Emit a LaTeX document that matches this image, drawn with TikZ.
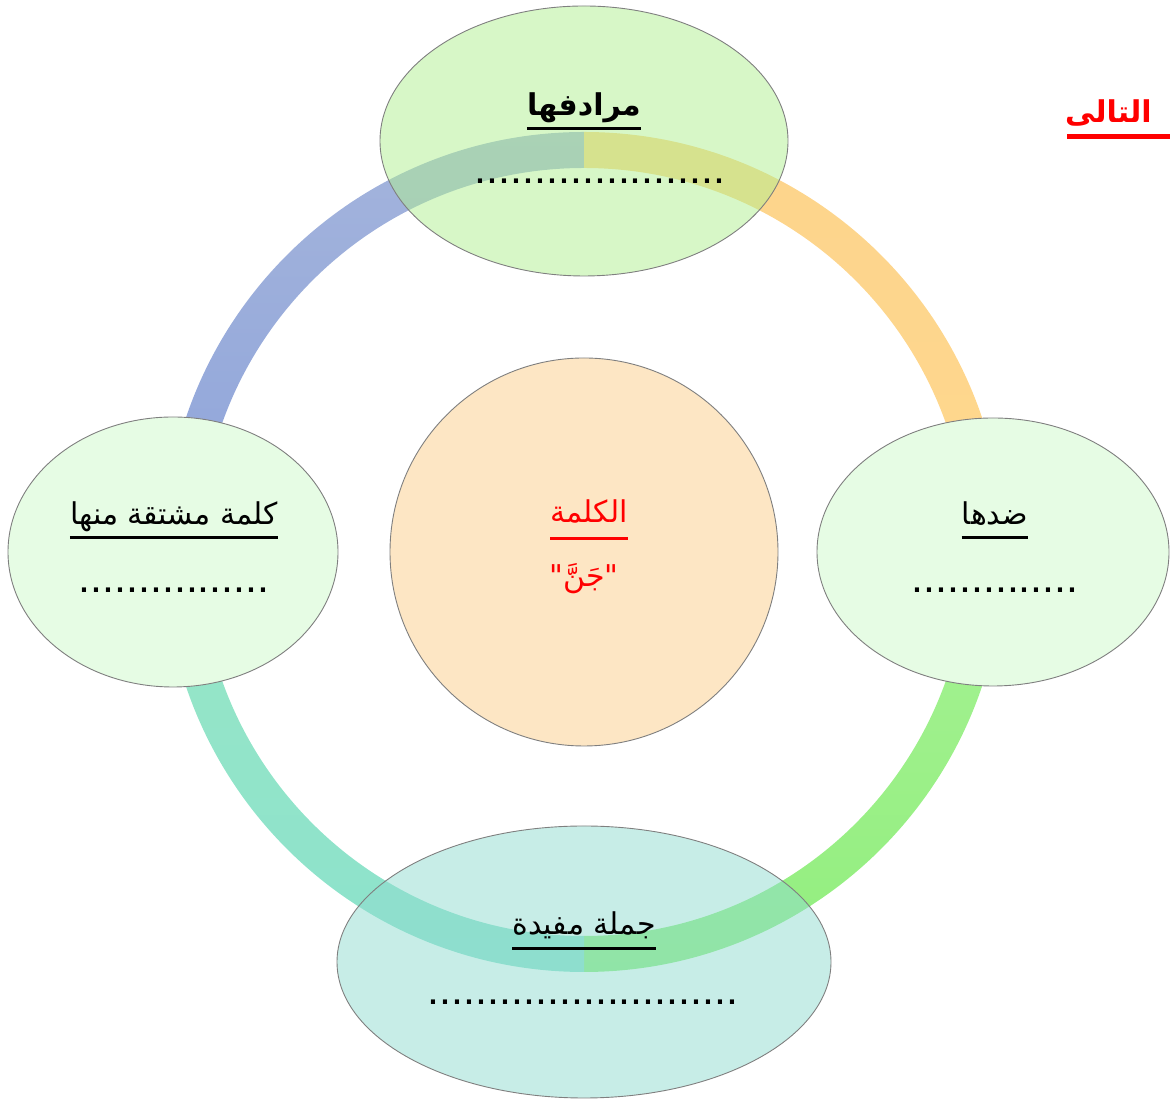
\documentclass[tikz,border=0pt]{standalone}
\usepackage{fontspec}
\setmainfont{Liberation Sans}
\newfontfamily\arabicfont[Script=Arabic]{DejaVu Sans}
\TeXXeTstate=1
\usetikzlibrary{shapes.geometric}
\definecolor{ringblueT}{HTML}{A4B4DC}
\definecolor{ringblueB}{HTML}{8EA4DA}
\definecolor{ringorT}{HTML}{FDD48C}
\definecolor{ringorB}{HTML}{FED88E}
\definecolor{ringgrT}{HTML}{A6F294}
\definecolor{ringgrB}{HTML}{92EE7E}
\definecolor{ringtlT}{HTML}{98E6C6}
\definecolor{ringtlB}{HTML}{8CE2CC}
\definecolor{topfill}{HTML}{B0F090}
\definecolor{sidefill}{HTML}{E6FCE4}
\definecolor{botfill}{HTML}{90DCD0}
\definecolor{midfill}{HTML}{FDE6C4}
\definecolor{edge}{HTML}{7F7F7F}
\tikzset{
  bubble/.style={ellipse, draw=edge, line width=0.9pt, inner sep=0pt},
  arab/.style={font=\arabicfont\fontsize{30}{36}\selectfont, inner sep=0pt, anchor=base},
  dotsline/.style={font=\fontsize{43}{48}\selectfont, inner sep=0pt, anchor=base},
  uline/.style={line width=3pt},
}
\begin{document}
\begin{tikzpicture}[x=1pt,y=1pt]
\useasboundingbox (0,0) rectangle (1170,1099);
\clip (0,0) rectangle (1170,1099);
\coordinate (O) at (584,547);
% ring quarters
\shade[top color=ringblueT, bottom color=ringblueB]
  (584,967) arc[start angle=90,end angle=180,radius=420] -- (200,547)
  arc[start angle=180,end angle=90,radius=384] -- cycle;
\shade[top color=ringorT, bottom color=ringorB]
  (584,967) arc[start angle=90,end angle=0,radius=420] -- (968,547)
  arc[start angle=0,end angle=90,radius=384] -- cycle;
\shade[top color=ringgrT, bottom color=ringgrB]
  (1004,547) arc[start angle=0,end angle=-90,radius=420] -- (584,163)
  arc[start angle=-90,end angle=0,radius=384] -- cycle;
\shade[top color=ringtlT, bottom color=ringtlB]
  (584,127) arc[start angle=-90,end angle=-180,radius=420] -- (200,547)
  arc[start angle=180,end angle=270,radius=384] -- cycle;
% bubbles
\node[bubble, fill=topfill, fill opacity=0.5, minimum width=408pt, minimum height=270pt] (top) at (584,958) {};
\node[bubble, fill=sidefill, minimum width=352pt, minimum height=268pt] (right) at (993,547) {};
\node[bubble, fill=sidefill, minimum width=330pt, minimum height=270pt] (left) at (173,547) {};
\node[bubble, fill=botfill, fill opacity=0.5, minimum width=494pt, minimum height=272pt] (bottom) at (584,137) {};
\node[circle, draw=edge, line width=0.9pt, fill=midfill, minimum size=388pt, inner sep=0pt] (mid) at (O) {};
% top label
\node[arab, font=\arabicfont\bfseries\fontsize{30}{36}\selectfont] (ttop) at (584,983) {\beginR مرادفها\endR};
\draw[uline] ([yshift=-13pt]ttop.base west) -- ([yshift=-13pt]ttop.base east);
\node[dotsline] (dtop) at (600,915) {.....................};
% right label
\node[arab] (tright) at (995,574) {\beginR ضدها\endR};
\draw[uline] ([yshift=-13pt]tright.base west) -- ([yshift=-13pt]tright.base east);
\node[dotsline] (dright) at (995,506) {..............};
% left label
\node[arab] (tleft) at (174,574) {\beginR كلمة مشتقة منها\endR};
\draw[uline] ([yshift=-13pt]tleft.base west) -- ([yshift=-13pt]tleft.base east);
\node[dotsline] (dleft) at (174,506) {................};
% bottom label
\node[arab] (tbot) at (584,164) {\beginR جملة مفيدة\endR};
\draw[uline] ([yshift=-14pt]tbot.base west) -- ([yshift=-14pt]tbot.base east);
\node[dotsline] (dbot) at (583,94) {..........................};
% centre
\node[arab, text=red] (tmid) at (589,576) {\beginR الكلمة\endR};
\draw[uline, red] ([yshift=-16pt]tmid.base west) -- ([yshift=-16pt]tmid.base east);
\node[arab, text=red] (word) at (584,512) {\beginR"جَنَّ"\endR};
% top-right fragment
\node[arab, text=red, font=\arabicfont\bfseries\fontsize{30}{36}\selectfont, anchor=base east] (tr) at (1152,976) {\beginR التالى\endR};
\coordinate (trend) at (1170,962);
\draw[line width=5pt, red] (1067,962) -- (trend);
\end{tikzpicture}
\end{document}
